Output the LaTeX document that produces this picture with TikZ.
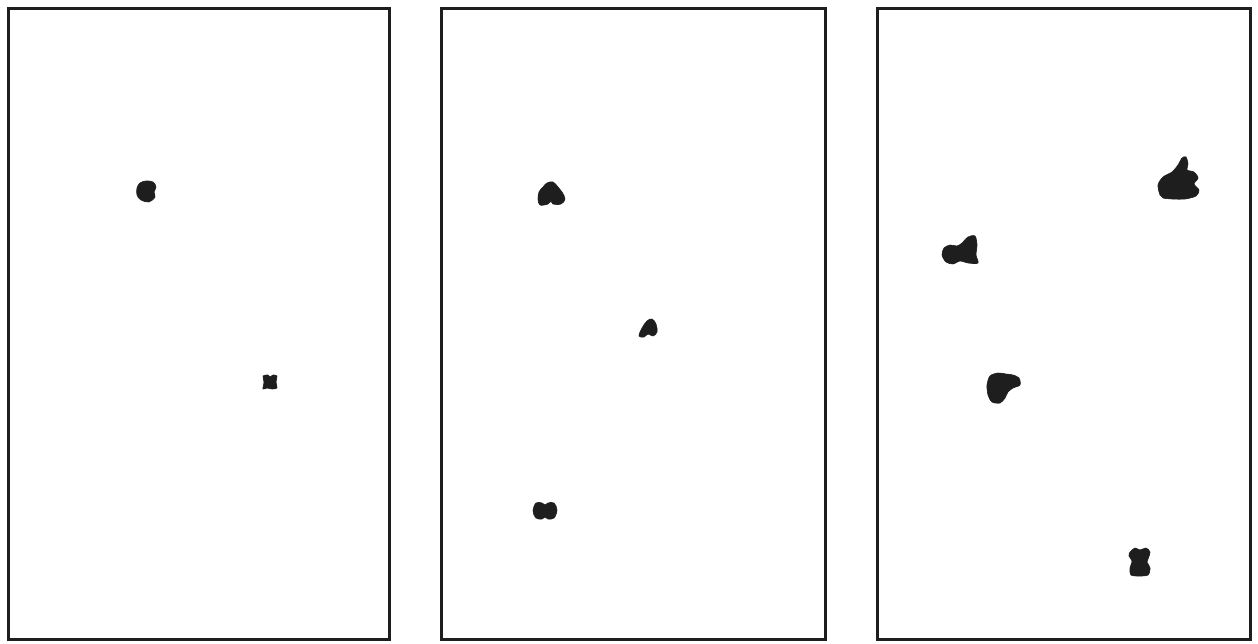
\documentclass[tikz,border=0pt]{standalone}
\usepackage{tikz}
\definecolor{inkblack}{HTML}{1E1E1E}
\tikzset{
  panel/.style={draw=inkblack, line width=3pt},
  blob/.style={fill=inkblack, draw=inkblack, line width=0.6pt},
}

\begin{document}
\begin{tikzpicture}[x=1pt, y=-1pt]
        \useasboundingbox (0,0) rectangle (1258,644);
        % three frames
        \draw[panel] (8.5,9) rectangle (389,639);
        \draw[panel] (441,9) rectangle (825,639);
        \draw[panel] (877,9) rectangle (1250,639);
        % first frame: two specks
        \fill[blob] plot[smooth cycle, tension=0.6] coordinates {(137,188) (140,183) (146,181) (153,182) (156,187) (154,192) (155,197) (149,202) (141,200) (137,195)};
        \fill[blob] plot[smooth cycle, tension=0.5] coordinates {(263,376) (268,375) (270,377) (273,375) (277,376) (276,382) (277,388) (272,389) (267,388) (263,389) (264,382)};
        % second frame: three specks
        \fill[blob] plot[smooth cycle, tension=0.6] coordinates {(538,199) (539,192) (543,187) (547,183) (553,182) (558,187) (562,192) (565,199) (561,204) (553,204) (551,201) (548,204) (540,205)};
        \fill[blob] plot[smooth cycle, tension=0.6] coordinates {(639,336) (642,328) (647,321) (652,319) (656,324) (657,332) (653,336) (648,334) (644,337)};
        \fill[blob] plot[smooth cycle, tension=0.6] coordinates {(533,511) (536,503) (542,503) (545,505) (548,503) (554,503) (557,510) (554,518) (548,519) (545,517) (542,519) (536,518)};
        % third frame: four specks
        \fill[blob] plot[smooth cycle, tension=0.5] coordinates {(1160,195) (1158,185) (1163,177) (1172,172) (1178,165) (1182,158) (1186,157) (1188,164) (1187,170) (1194,172) (1198,178) (1194,184) (1199,190) (1196,196) (1185,199) (1172,199) (1163,198)};
        \fill[blob] plot[smooth cycle, tension=0.5] coordinates {(942,255) (944,248) (950,245) (957,246) (962,243) (968,237) (975,236) (977,245) (976,255) (978,263) (968,263) (960,261) (953,264) (946,262)};
        \fill[blob] plot[smooth cycle, tension=0.5] coordinates {(987,385) (990,376) (998,373) (1006,374) (1013,375) (1019,378) (1020,385) (1013,388) (1008,392) (1005,398) (1000,403) (992,402) (988,395)};
        \fill[blob] plot[smooth cycle, tension=0.5] coordinates {(1130,552) (1135,548) (1140,550) (1146,548) (1150,552) (1148,559) (1147,562) (1150,568) (1148,575) (1139,576) (1131,575) (1130,568) (1132,561) (1129,556)};
      \end{tikzpicture}
\end{document}
